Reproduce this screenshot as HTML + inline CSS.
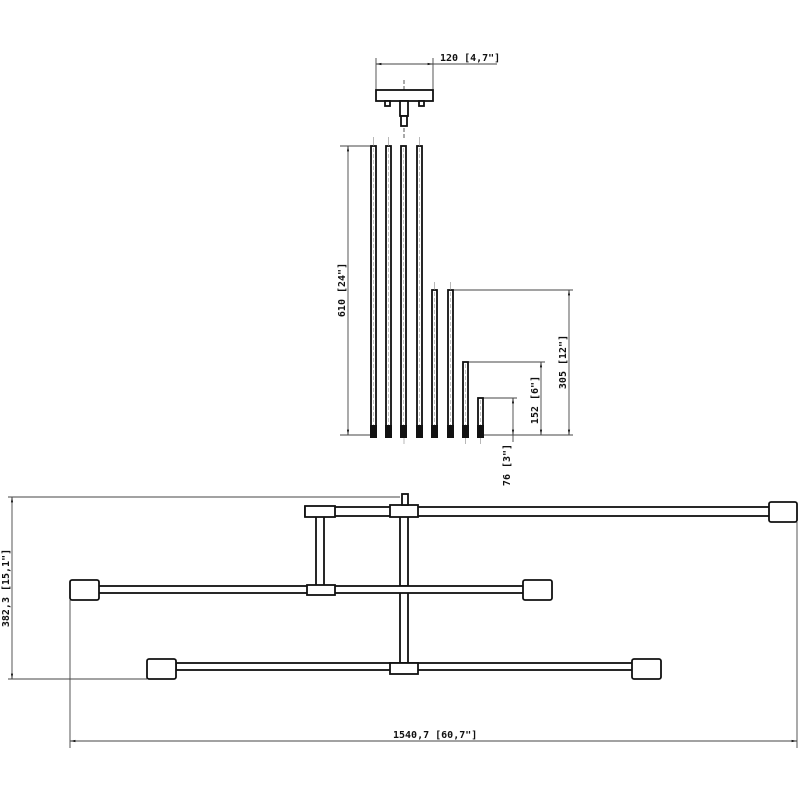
<!DOCTYPE html>
<html><head><style>html,body{margin:0;padding:0;background:#fff}svg{display:block}text{font-family:"DejaVu Sans Mono","Liberation Mono",monospace;font-weight:bold;font-size:10px;fill:#111}</style></head>
<body>
<svg width="800" height="800" viewBox="0 0 800 800" xmlns="http://www.w3.org/2000/svg">
<defs><marker id="a" viewBox="0 0 10 10" refX="10" refY="5" markerWidth="6" markerHeight="6" orient="auto-start-reverse"><path d="M0,3L10,5L0,7z" fill="#111"/></marker></defs>
<g stroke="#444" stroke-width="0.9" fill="none">
<line x1="376" y1="58" x2="376" y2="90"/><line x1="433" y1="58" x2="433" y2="90"/>
<line x1="376" y1="64" x2="497" y2="64"/>
<line x1="376" y1="64" x2="433" y2="64" marker-start="url(#a)" marker-end="url(#a)"/>
<line x1="340" y1="146" x2="371" y2="146"/><line x1="340" y1="435" x2="371" y2="435"/>
<line x1="348" y1="146" x2="348" y2="435" marker-start="url(#a)" marker-end="url(#a)"/>
<line x1="453" y1="290" x2="573" y2="290"/><line x1="483" y1="435" x2="573" y2="435"/>
<line x1="569" y1="290" x2="569" y2="435" marker-start="url(#a)" marker-end="url(#a)"/>
<line x1="468" y1="362" x2="545" y2="362"/>
<line x1="541" y1="362" x2="541" y2="435" marker-start="url(#a)" marker-end="url(#a)"/>
<line x1="483" y1="398" x2="517" y2="398"/>
<line x1="513" y1="398" x2="513" y2="435" marker-start="url(#a)" marker-end="url(#a)"/>
<line x1="513" y1="435" x2="513" y2="442"/>
<line x1="404" y1="80" x2="404" y2="140" stroke-dasharray="4,2"/>
<line x1="8" y1="497" x2="400" y2="497"/><line x1="8" y1="679" x2="147" y2="679"/>
<line x1="12" y1="497" x2="12" y2="679" marker-start="url(#a)" marker-end="url(#a)"/>
<line x1="70" y1="600" x2="70" y2="748"/><line x1="797" y1="522" x2="797" y2="748"/>
<line x1="70" y1="741" x2="797" y2="741" marker-start="url(#a)" marker-end="url(#a)"/>
</g>
<g stroke="#111" stroke-width="1.8" fill="#fff">
<rect x="376" y="90" width="57" height="11"/>
<rect x="385" y="101" width="5" height="5"/><rect x="419" y="101" width="5" height="5"/>
<rect x="400" y="101" width="8" height="15"/><rect x="401" y="116" width="6" height="10"/>
<rect x="371" y="146" width="5" height="289"/><rect x="386" y="146" width="5" height="289"/>
<rect x="401" y="146" width="5" height="289"/><rect x="417" y="146" width="5" height="289"/>
<rect x="432" y="290" width="5" height="145"/><rect x="448" y="290" width="5" height="145"/>
<rect x="463" y="362" width="5" height="73"/><rect x="478" y="398" width="5" height="37"/>
</g>
<g stroke="#999" stroke-width="0.6" stroke-dasharray="4,2">
<line x1="373.5" y1="148" x2="373.5" y2="425"/><line x1="388.5" y1="148" x2="388.5" y2="425"/>
<line x1="403.5" y1="148" x2="403.5" y2="425"/><line x1="419.5" y1="148" x2="419.5" y2="425"/>
<line x1="434.5" y1="292" x2="434.5" y2="425"/><line x1="450.5" y1="292" x2="450.5" y2="425"/>
<line x1="465.5" y1="364" x2="465.5" y2="425"/><line x1="480.5" y1="400" x2="480.5" y2="425"/>
</g>
<g fill="#111">
<rect x="370" y="425" width="7" height="13"/><rect x="385" y="425" width="7" height="13"/>
<rect x="400" y="425" width="7" height="13"/><rect x="416" y="425" width="7" height="13"/>
<rect x="431" y="425" width="7" height="13"/><rect x="447" y="425" width="7" height="13"/>
<rect x="462" y="425" width="7" height="13"/><rect x="477" y="425" width="7" height="13"/>
</g>
<g stroke="#888" stroke-width="0.6">
<line x1="373.5" y1="137" x2="373.5" y2="146"/><line x1="388.5" y1="137" x2="388.5" y2="146"/><line x1="419.5" y1="137" x2="419.5" y2="146"/>
<line x1="434.5" y1="282" x2="434.5" y2="290"/><line x1="450.5" y1="282" x2="450.5" y2="290"/>
<line x1="404" y1="438" x2="404" y2="444"/><line x1="465.5" y1="438" x2="465.5" y2="444"/><line x1="480.5" y1="438" x2="480.5" y2="444"/>
</g>
<g stroke="#111" stroke-width="1.8" fill="#fff">
<rect x="305" y="507" width="466" height="9"/>
<rect x="316" y="516" width="8" height="70"/>
<rect x="400" y="516" width="8" height="70"/>
<rect x="400" y="592" width="8" height="71"/>
<rect x="98" y="586" width="426" height="7"/>
<rect x="176" y="663" width="457" height="7"/>
<rect x="305" y="506" width="30" height="11"/>
<rect x="390" y="505" width="28" height="12"/>
<rect x="402" y="494" width="6" height="11"/>
<rect x="307" y="585" width="28" height="10"/>
<rect x="390" y="663" width="28" height="11"/>
<rect x="70" y="580" width="29" height="20" rx="2"/>
<rect x="523" y="580" width="29" height="20" rx="2"/>
<rect x="147" y="659" width="29" height="20" rx="2"/>
<rect x="632" y="659" width="29" height="20" rx="2"/>
<rect x="769" y="502" width="28" height="20" rx="2"/>
</g>
<text x="440" y="61">120 [4,7"]</text>
<text x="393" y="738">1540,7 [60,7"]</text>
<text transform="translate(345,290) rotate(-90)" text-anchor="middle">610 [24"]</text>
<text transform="translate(566,362) rotate(-90)" text-anchor="middle">305 [12"]</text>
<text transform="translate(538,400) rotate(-90)" text-anchor="middle">152 [6"]</text>
<text transform="translate(510,465) rotate(-90)" text-anchor="middle">76 [3"]</text>
<text transform="translate(9,588) rotate(-90)" text-anchor="middle">382,3 [15,1"]</text>
</svg>
</body></html>
